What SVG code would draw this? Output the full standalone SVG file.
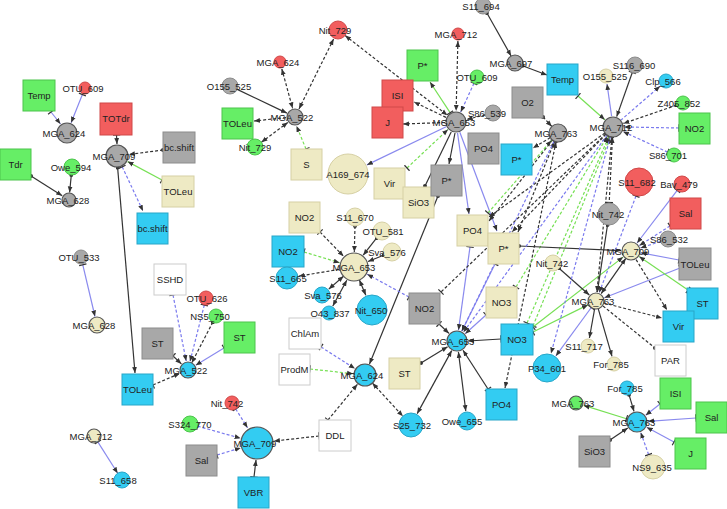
<svg xmlns="http://www.w3.org/2000/svg" width="727" height="509" viewBox="0 0 727 509">
<defs>
<marker id="a" viewBox="0 0 10 10" refX="10" refY="5" markerWidth="6" markerHeight="6" markerUnits="userSpaceOnUse" orient="auto-start-reverse"><path d="M0,1 L10,5 L0,9 z" fill="#333"/></marker>
<marker id="t" viewBox="0 0 4 10" refX="2" refY="5" markerWidth="3" markerHeight="8" markerUnits="userSpaceOnUse" orient="auto"><path d="M2,0 V10" stroke="#333" stroke-width="1.6"/></marker>
<marker id="d" viewBox="0 0 10 10" refX="5" refY="5" markerWidth="4" markerHeight="4" markerUnits="userSpaceOnUse"><circle cx="5" cy="5" r="5" fill="#333"/></marker>
</defs>
<style>
line{fill:none;stroke-width:1.2}
.k{stroke:#333}
.kd{stroke:#333;stroke-dasharray:3 2}
.b{stroke:#8a8aee}
.bd{stroke:#7a7aee;stroke-dasharray:3 2}
.g{stroke:#77e055}
.gd{stroke:#77e055;stroke-dasharray:3 2}
.ta{marker-start:url(#t);marker-end:url(#a)}
.da{marker-start:url(#d);marker-end:url(#a)}
.aa{marker-start:url(#a);marker-end:url(#a)}
.xa{marker-end:url(#a)}
.xd{marker-end:url(#d)}
.at{marker-start:url(#a);marker-end:url(#t)}
.xt{marker-end:url(#t)}
.gr{fill:#66ee66;stroke:#4cc44c}
.rd{fill:#f25e5e;stroke:#d04848}
.gy{fill:#a8a8a8;stroke:#8c8c8c}
.bg{fill:#eeeac4;stroke:#d6d0a4}
.cy{fill:#33ccf2;stroke:#28a6c8}
.wh{fill:#ffffff;stroke:#cccccc}
.hub{stroke:#555;stroke-width:1.2}
text{font-family:"Liberation Sans",Arial,sans-serif;font-size:9.5px;fill:#222;text-anchor:middle}
</style>
<rect width="727" height="509" fill="#fff"/>
<g id="edges">
<line class="b ta" x1="51" y1="112" x2="60.5" y2="124"/>
<line class="b ta" x1="82.4" y1="94.5" x2="71.1" y2="122.8"/>
<line class="k da" x1="31" y1="176" x2="62.2" y2="195.7"/>
<line class="k da" x1="71.3" y1="175" x2="69.6" y2="192.5"/>
<line class="k ta" x1="116.5" y1="135" x2="117" y2="144"/>
<line class="kd da" x1="163" y1="150" x2="128.9" y2="154.5"/>
<line class="g ta" x1="162" y1="180" x2="127.6" y2="161.6"/>
<line class="bd ta" x1="122.2" y1="166.8" x2="143" y2="211"/>
<line class="k da" x1="117.6" y1="167.5" x2="135" y2="373"/>
<line class="b ta" x1="82.8" y1="264.8" x2="95" y2="316.5"/>
<line class="bd ta" x1="173" y1="295" x2="186.2" y2="361"/>
<line class="bd ta" x1="204.3" y1="305" x2="190" y2="361.5"/>
<line class="kd da" x1="212.8" y1="322.2" x2="191.7" y2="362.9"/>
<line class="b ta" x1="224" y1="348" x2="195.7" y2="365.3"/>
<line class="k ta" x1="173" y1="356" x2="181.4" y2="363.9"/>
<line class="kd ta" x1="153" y1="385" x2="179.7" y2="373.5"/>
<line class="b ta" x1="97.8" y1="441.9" x2="117.7" y2="473.2"/>
<line class="bd ta" x1="235.7" y1="408.9" x2="247.5" y2="427.8"/>
<line class="bd ta" x1="197.7" y1="426.2" x2="240.6" y2="438.3"/>
<line class="bd ta" x1="217" y1="455" x2="240.7" y2="447.9"/>
<line class="k ta" x1="254" y1="477" x2="256" y2="460"/>
<line class="kd ta" x1="319" y1="436" x2="273.9" y2="441.1"/>
<line class="kd ta" x1="328" y1="420" x2="357.4" y2="384.3"/>
<line class="gd ta" x1="310" y1="369" x2="353.1" y2="373.7"/>
<line class="bd ta" x1="321" y1="347" x2="354.9" y2="368.6"/>
<line class="kd aa" x1="372.4" y1="383.1" x2="402.9" y2="416.2"/>
<line class="k da" x1="438" y1="196" x2="369.5" y2="363.9"/>
<line class="kd aa" x1="345.1" y1="35.5" x2="447.3" y2="115.2"/>
<line class="kd aa" x1="457.9" y1="41" x2="456.1" y2="111"/>
<line class="g ta" x1="450.1" y1="112.7" x2="430" y2="82"/>
<line class="kd xa" x1="446" y1="117.4" x2="414" y2="102"/>
<line class="kd xa" x1="445" y1="122.5" x2="403" y2="124"/>
<line class="bd ta" x1="474" y1="83.3" x2="460.7" y2="112"/>
<line class="kd xa" x1="485.2" y1="114.9" x2="466.7" y2="119.4"/>
<line class="b xa" x1="446.1" y1="126.8" x2="366.9" y2="164.9"/>
<line class="gd ta" x1="407" y1="168" x2="448" y2="129.5"/>
<line class="k xa" x1="455" y1="133" x2="449" y2="164"/>
<line class="k xd" x1="451.2" y1="131.9" x2="425" y2="186"/>
<line class="b xa" x1="457.5" y1="132.9" x2="469" y2="214"/>
<line class="b xa" x1="459.8" y1="132.3" x2="497" y2="231"/>
<line class="b ta" x1="470" y1="247" x2="458.5" y2="330.1"/>
<line class="b ta" x1="495" y1="264" x2="461.9" y2="331.1"/>
<line class="b ta" x1="486" y1="315" x2="465.2" y2="333.7"/>
<line class="k ta" x1="439" y1="324" x2="449" y2="333.4"/>
<line class="k ta" x1="501" y1="339" x2="468" y2="341"/>
<line class="k da" x1="421" y1="363" x2="447.6" y2="346.7"/>
<line class="k aa" x1="451.7" y1="350.6" x2="417.2" y2="413.6"/>
<line class="k aa" x1="458.4" y1="351.9" x2="465.8" y2="411.1"/>
<line class="k ta" x1="488" y1="389" x2="463" y2="350.2"/>
<line class="kd aa" x1="556" y1="142" x2="505" y2="388"/>
<line class="kd xt" x1="605.8" y1="133.9" x2="441" y2="292"/>
<line class="bd ta" x1="409" y1="297" x2="367.2" y2="274.2"/>
<line class="kd ta" x1="320" y1="232" x2="343.5" y2="256.2"/>
<line class="gd ta" x1="304" y1="252" x2="339.6" y2="262.7"/>
<line class="kd da" x1="355" y1="226" x2="354.3" y2="252"/>
<line class="k da" x1="376.5" y1="238.1" x2="363.2" y2="255.2"/>
<line class="k da" x1="383.6" y1="255.3" x2="368" y2="261.5"/>
<line class="kd xa" x1="339.2" y1="269.4" x2="298.8" y2="276.1"/>
<line class="k aa" x1="343.5" y1="276.2" x2="328.8" y2="289.1"/>
<line class="k aa" x1="346.8" y1="280.2" x2="332.8" y2="306"/>
<line class="k aa" x1="359.4" y1="279.9" x2="365.8" y2="295.2"/>
<line class="k xa" x1="237.2" y1="89.4" x2="286.9" y2="113.1"/>
<line class="kd aa" x1="281.8" y1="68.8" x2="292.6" y2="108.3"/>
<line class="kd aa" x1="333.6" y1="39" x2="299" y2="108.9"/>
<line class="kd xa" x1="286" y1="117.6" x2="254" y2="121"/>
<line class="kd aa" x1="287.8" y1="122.4" x2="261.4" y2="142.2"/>
<line class="gd ta" x1="306" y1="149" x2="296.5" y2="126"/>
<line class="k da" x1="486.9" y1="13" x2="511.1" y2="56"/>
<line class="k da" x1="522.5" y1="65.8" x2="547" y2="75"/>
<line class="g ta" x1="578" y1="96" x2="604.8" y2="119.7"/>
<line class="b xa" x1="611.6" y1="116.1" x2="607" y2="84"/>
<line class="k ta" x1="632.3" y1="72.5" x2="616.7" y2="116.6"/>
<line class="bd xa" x1="620.6" y1="120.4" x2="660" y2="86.2"/>
<line class="kd da" x1="676.4" y1="105.3" x2="623.4" y2="123.4"/>
<line class="bd ta" x1="679" y1="128" x2="624" y2="127"/>
<line class="bd ta" x1="667.6" y1="152.1" x2="623" y2="131.6"/>
<line class="kd da" x1="543" y1="117" x2="551.8" y2="126.4"/>
<line class="kd xa" x1="550.3" y1="137.6" x2="533" y2="148"/>
<line class="kd at" x1="612.5" y1="137" x2="609.2" y2="202.5"/>
<line class="kd xa" x1="606" y1="134.2" x2="512" y2="232"/>
<line class="kd xa" x1="605" y1="132.9" x2="489" y2="217"/>
<line class="kd aa" x1="554.6" y1="141.3" x2="518" y2="232"/>
<line class="kd xa" x1="552.4" y1="140.1" x2="489" y2="221"/>
<line class="gd ta" x1="488" y1="213" x2="551.4" y2="140.5"/>
<line class="gd ta" x1="516" y1="287" x2="607.3" y2="136.4"/>
<line class="gd ta" x1="527" y1="323" x2="608.6" y2="137.1"/>
<line class="gd ta" x1="533" y1="326" x2="610" y2="137.5"/>
<line class="k da" x1="519" y1="246" x2="621" y2="250.6"/>
<line class="b ta" x1="677.2" y1="190.4" x2="637.1" y2="243"/>
<line class="bd ta" x1="670" y1="226" x2="639.4" y2="245.6"/>
<line class="bd xa" x1="660.4" y1="241.5" x2="640.5" y2="247.9"/>
<line class="b ta" x1="679" y1="260" x2="640.8" y2="252.8"/>
<line class="b ta" x1="680" y1="268" x2="604.4" y2="297.7"/>
<line class="k aa" x1="625.8" y1="258.4" x2="601.2" y2="293.6"/>
<line class="g ta" x1="688" y1="290" x2="639.2" y2="256.6"/>
<line class="kd xa" x1="636.1" y1="259.6" x2="667" y2="310"/>
<line class="g ta" x1="533" y1="327" x2="623.1" y2="257.1"/>
<line class="g ta" x1="533" y1="332" x2="587.9" y2="304.9"/>
<line class="k da" x1="559" y1="268.3" x2="589.3" y2="295"/>
<line class="k da" x1="607.5" y1="225" x2="597.3" y2="292.1"/>
<line class="kd xa" x1="603.8" y1="303" x2="662" y2="318"/>
<line class="kd xd" x1="603" y1="306" x2="655" y2="348"/>
<line class="k xa" x1="594.6" y1="309" x2="589.4" y2="338"/>
<line class="k xa" x1="598.2" y1="308.7" x2="612" y2="356.3"/>
<line class="b ta" x1="591.3" y1="307.5" x2="555.9" y2="355.9"/>
<line class="bd ta" x1="610.4" y1="136.6" x2="551" y2="353.5"/>
<line class="bd ta" x1="607.1" y1="135.1" x2="463.5" y2="332.1"/>
<line class="bd ta" x1="554.1" y1="141.1" x2="461.8" y2="331.1"/>
<line class="bd ta" x1="636" y1="196" x2="599.2" y2="292.6"/>
<line class="kd aa" x1="612" y1="137" x2="596.9" y2="292"/>
<line class="k da" x1="629" y1="394.7" x2="634" y2="411.4"/>
<line class="g ta" x1="626.5" y1="418.7" x2="583.7" y2="405.4"/>
<line class="b ta" x1="660" y1="404" x2="645.7" y2="415.2"/>
<line class="b ta" x1="696" y1="418" x2="648" y2="421.3"/>
<line class="b ta" x1="674" y1="442" x2="646.7" y2="427.2"/>
<line class="k da" x1="610" y1="440" x2="627.8" y2="428.1"/>
<line class="bd ta" x1="648.6" y1="454.6" x2="640.7" y2="432.4"/>
</g>
<g id="n_Temp_g"><rect class="gr" x="23" y="80" width="32" height="31"/><text x="39" y="99">Temp</text></g>
<g id="n_OTU_609_r"><circle class="rd" cx="85" cy="88" r="6"/><text x="83" y="92">OTU_609</text></g>
<g id="n_MGA_624_gy"><circle class="gy hub" cx="67" cy="133" r="10"/><text x="64" y="137">MGA_624</text></g>
<g id="n_Tdr"><rect class="gr" x="0" y="149" width="31" height="31"/><text x="15.5" y="168">Tdr</text></g>
<g id="n_Owe_594"><circle class="gr" cx="72" cy="167" r="8"/><text x="71" y="171">Owe_594</text></g>
<g id="n_MGA_628_gy"><circle class="gy hub" cx="69" cy="200" r="7"/><text x="68" y="204">MGA_628</text></g>
<g id="n_TOTdr"><rect class="rd" x="100" y="103" width="32" height="32"/><text x="116" y="122">TOTdr</text></g>
<g id="n_MGA_709_gy"><circle class="gy hub" cx="117" cy="156" r="11"/><text x="114" y="160">MGA_709</text></g>
<g id="n_bcshift_gy"><rect class="gy" x="163" y="132" width="32" height="31"/><text x="179" y="151">bc.shift</text></g>
<g id="n_TOLeu_bg"><rect class="bg" x="162" y="176" width="32" height="31"/><text x="178" y="195">TOLeu</text></g>
<g id="n_bcshift_cy"><rect class="cy" x="137" y="213" width="31" height="31"/><text x="152.5" y="232">bc.shift</text></g>
<g id="n_OTU_533"><circle class="gy" cx="81" cy="257" r="7"/><text x="79" y="261">OTU_533</text></g>
<g id="n_MGA_628_bg"><circle class="bg hub" cx="97" cy="325" r="8"/><text x="94" y="329">MGA_628</text></g>
<g id="n_SSHD"><rect class="wh" x="154" y="264" width="32" height="31"/><text x="170" y="283">SSHD</text></g>
<g id="n_OTU_626"><circle class="rd" cx="206" cy="298" r="7"/><text x="207" y="302">OTU_626</text></g>
<g id="n_NS5_750"><circle class="gr" cx="216" cy="316" r="7"/><text x="210" y="320">NS5_750</text></g>
<g id="n_ST_g"><rect class="gr" x="224" y="322" width="31" height="31"/><text x="239.5" y="341">ST</text></g>
<g id="n_ST_gy"><rect class="gy" x="142" y="328" width="31" height="31"/><text x="157.5" y="347">ST</text></g>
<g id="n_MGA_522_cy"><circle class="cy hub" cx="188" cy="370" r="8"/><text x="186" y="374">MGA_522</text></g>
<g id="n_TOLeu_cy"><rect class="cy" x="122" y="374" width="31" height="31"/><text x="137.5" y="393">TOLeu</text></g>
<g id="n_Nit_742_r"><circle class="rd" cx="232" cy="403" r="7"/><text x="227" y="407">Nit_742</text></g>
<g id="n_S324_770"><circle class="gr" cx="190" cy="424" r="8"/><text x="190" y="428">S324_770</text></g>
<g id="n_MGA_709_cy"><circle class="cy hub" cx="257" cy="443" r="16"/><text x="255" y="447">MGA_709</text></g>
<g id="n_Sal_gy"><rect class="gy" x="186" y="445" width="31" height="31"/><text x="201.5" y="464">Sal</text></g>
<g id="n_VBR"><rect class="cy" x="238" y="477" width="31" height="31"/><text x="253.5" y="496">VBR</text></g>
<g id="n_DDL"><rect class="wh" x="319" y="420" width="32" height="31"/><text x="335" y="439">DDL</text></g>
<g id="n_MGA_712_bg"><circle class="bg hub" cx="94" cy="436" r="7"/><text x="91" y="440">MGA_712</text></g>
<g id="n_S11_658"><circle class="cy" cx="122" cy="480" r="8"/><text x="118" y="484">S11_658</text></g>
<g id="n_O155_525_gy"><circle class="gy" cx="230" cy="86" r="8"/><text x="229" y="90">O155_525</text></g>
<g id="n_TOLeu_g"><rect class="gr" x="222" y="108" width="31" height="31"/><text x="237.5" y="127">TOLeu</text></g>
<g id="n_Nit_729_g"><circle class="gr" cx="255" cy="147" r="8"/><text x="255" y="151">Nit_729</text></g>
<g id="n_Nit_729_r"><circle class="rd" cx="338" cy="30" r="9"/><text x="335" y="34">Nit_729</text></g>
<g id="n_MGA_624_r"><circle class="rd" cx="280" cy="62" r="6"/><text x="278" y="66">MGA_624</text></g>
<g id="n_MGA_522_gy"><circle class="gy hub" cx="295" cy="117" r="8"/><text x="292" y="121">MGA_522</text></g>
<g id="n_S"><rect class="bg" x="291" y="149" width="31" height="31"/><text x="306.5" y="168">S</text></g>
<g id="n_A169_674"><circle class="bg" cx="348" cy="174" r="20"/><text x="348" y="178">A169_674</text></g>
<g id="n_Pstar_g"><rect class="gr" x="407" y="50" width="31" height="31"/><text x="422.5" y="69">P*</text></g>
<g id="n_ISI_r"><rect class="rd" x="382" y="80" width="31" height="31"/><text x="397.5" y="99">ISI</text></g>
<g id="n_J_r"><rect class="rd" x="372" y="107" width="31" height="31"/><text x="387.5" y="126">J</text></g>
<g id="n_MGA_712_r"><circle class="rd" cx="458" cy="34" r="6"/><text x="456" y="38">MGA_712</text></g>
<g id="n_OTU_609_g"><circle class="gr" cx="477" cy="77" r="7"/><text x="477" y="81">OTU_609</text></g>
<g id="n_S86_539"><circle class="gy" cx="493" cy="113" r="8"/><text x="487" y="117">S86_539</text></g>
<g id="n_MGA_653_gy"><circle class="gy hub" cx="456" cy="122" r="10"/><text x="454" y="126">MGA_653</text></g>
<g id="n_Vir_bg"><rect class="bg" x="374" y="168" width="31" height="31"/><text x="389.5" y="187">Vir</text></g>
<g id="n_SiO3_bg"><rect class="bg" x="403" y="187" width="31" height="31"/><text x="418.5" y="206">SiO3</text></g>
<g id="n_Pstar_gy"><rect class="gy" x="431" y="165" width="31" height="31"/><text x="446.5" y="184">P*</text></g>
<g id="n_PO4_gy"><rect class="gy" x="468" y="133" width="31" height="31"/><text x="483.5" y="152">PO4</text></g>
<g id="n_O2"><rect class="gy" x="512" y="87" width="31" height="31"/><text x="527.5" y="106">O2</text></g>
<g id="n_Pstar_cy"><rect class="cy" x="501" y="144" width="31" height="31"/><text x="516.5" y="163">P*</text></g>
<g id="n_S11_694"><circle class="gy" cx="483" cy="6" r="8"/><text x="481" y="10">S11_694</text></g>
<g id="n_MGA_697"><circle class="gy hub" cx="515" cy="63" r="8"/><text x="511" y="67">MGA_697</text></g>
<g id="n_Temp_cy"><rect class="cy" x="547" y="64" width="31" height="31"/><text x="562.5" y="83">Temp</text></g>
<g id="n_MGA_763_gy"><circle class="gy hub" cx="558" cy="133" r="9"/><text x="556" y="137">MGA_763</text></g>
<g id="n_O155_525_bg"><circle class="bg" cx="606" cy="76" r="7"/><text x="605" y="80">O155_525</text></g>
<g id="n_S116_690"><circle class="gy" cx="635" cy="65" r="8"/><text x="634" y="69">S116_690</text></g>
<g id="n_Clp_566"><circle class="cy" cx="666" cy="81" r="7"/><text x="663" y="85">Clp_566</text></g>
<g id="n_Z405_852"><circle class="gr" cx="683" cy="103" r="7"/><text x="679" y="107">Z405_852</text></g>
<g id="n_NO2_g"><rect class="gr" x="679" y="113" width="31" height="31"/><text x="694.5" y="132">NO2</text></g>
<g id="n_MGA_712_gy"><circle class="gy hub" cx="613" cy="127" r="10"/><text x="611" y="131">MGA_712</text></g>
<g id="n_S86_701"><circle class="gr" cx="674" cy="155" r="7"/><text x="668" y="159">S86_701</text></g>
<g id="n_S11_682"><circle class="rd" cx="639" cy="182" r="14"/><text x="637" y="186">S11_682</text></g>
<g id="n_Bav_479"><circle class="rd" cx="682" cy="184" r="8"/><text x="679" y="188">Bav_479</text></g>
<g id="n_Sal_r"><rect class="rd" x="670" y="198" width="31" height="31"/><text x="685.5" y="217">Sal</text></g>
<g id="n_Nit_742_gy"><circle class="gy" cx="609" cy="214" r="11"/><text x="608" y="218">Nit_742</text></g>
<g id="n_S86_532"><circle class="gy" cx="668" cy="239" r="8"/><text x="669" y="243">S86_532</text></g>
<g id="n_TOLeu_gy"><rect class="gy" x="679" y="248" width="32" height="32"/><text x="695" y="268">TOLeu</text></g>
<g id="n_PO4_bg"><rect class="bg" x="457" y="215" width="31" height="31"/><text x="472.5" y="234">PO4</text></g>
<g id="n_Pstar_bg"><rect class="bg" x="488" y="233" width="31" height="31"/><text x="503.5" y="252">P*</text></g>
<g id="n_MGA_709_bg"><circle class="bg hub" cx="631" cy="251" r="9"/><text x="628" y="255">MGA_709</text></g>
<g id="n_Nit_742_bg"><circle class="bg" cx="553" cy="263" r="8"/><text x="552" y="267">Nit_742</text></g>
<g id="n_NO3_bg"><rect class="bg" x="486" y="287" width="31" height="31"/><text x="501.5" y="306">NO3</text></g>
<g id="n_MGA_763_bg"><circle class="bg hub" cx="596" cy="301" r="8"/><text x="593" y="305">MGA_763</text></g>
<g id="n_ST_cy"><rect class="cy" x="687" y="288" width="31" height="31"/><text x="702.5" y="307">ST</text></g>
<g id="n_Vir_cy"><rect class="cy" x="663" y="311" width="31" height="31"/><text x="678.5" y="330">Vir</text></g>
<g id="n_PAR"><rect class="wh" x="655" y="345" width="31" height="31"/><text x="670.5" y="364">PAR</text></g>
<g id="n_NO2_bg"><rect class="bg" x="289" y="202" width="31" height="31"/><text x="304.5" y="221">NO2</text></g>
<g id="n_NO2_cy"><rect class="cy" x="272" y="236" width="32" height="31"/><text x="288" y="255">NO2</text></g>
<g id="n_S11_670"><circle class="bg" cx="355" cy="217" r="9"/><text x="355" y="221">S11_670</text></g>
<g id="n_OTU_581"><circle class="bg" cx="382" cy="231" r="9"/><text x="383" y="235">OTU_581</text></g>
<g id="n_Sva_576_bg"><circle class="bg" cx="392" cy="252" r="9"/><text x="387" y="256">Sva_576</text></g>
<g id="n_MGA_653_bg"><circle class="bg hub" cx="354" cy="267" r="14"/><text x="354" y="271">MGA_653</text></g>
<g id="n_S11_665"><circle class="cy" cx="287" cy="278" r="11"/><text x="288" y="282">S11_665</text></g>
<g id="n_Sva_576_cy"><circle class="cy" cx="322" cy="295" r="8"/><text x="323" y="299">Sva_576</text></g>
<g id="n_O43_837"><circle class="cy" cx="329" cy="313" r="7"/><text x="330" y="317">O43_837</text></g>
<g id="n_Nit_650"><circle class="cy" cx="372" cy="310" r="15"/><text x="371" y="314">Nit_650</text></g>
<g id="n_ChlAm"><rect class="wh" x="289" y="318" width="32" height="31"/><text x="305" y="337">ChlAm</text></g>
<g id="n_ProdM"><rect class="wh" x="279" y="354" width="31" height="31"/><text x="294.5" y="373">ProdM</text></g>
<g id="n_MGA_624_cy"><circle class="cy hub" cx="365" cy="375" r="11"/><text x="362" y="379">MGA_624</text></g>
<g id="n_NO2_gy"><rect class="gy" x="409" y="293" width="31" height="31"/><text x="424.5" y="312">NO2</text></g>
<g id="n_NO3_cy"><rect class="cy" x="501" y="324" width="32" height="31"/><text x="517" y="343">NO3</text></g>
<g id="n_MGA_653_cy"><circle class="cy hub" cx="457" cy="341" r="10"/><text x="453" y="345">MGA_653</text></g>
<g id="n_ST_bg"><rect class="bg" x="389" y="358" width="31" height="31"/><text x="404.5" y="377">ST</text></g>
<g id="n_PO4_cy"><rect class="cy" x="486" y="389" width="31" height="31"/><text x="501.5" y="408">PO4</text></g>
<g id="n_S25_732"><circle class="cy" cx="411" cy="425" r="12"/><text x="412" y="429">S25_732</text></g>
<g id="n_Owe_655"><circle class="cy" cx="467" cy="421" r="9"/><text x="462" y="425">Owe_655</text></g>
<g id="n_P34_601"><circle class="cy" cx="547" cy="368" r="14"/><text x="547" y="372">P34_601</text></g>
<g id="n_S11_717"><circle class="bg" cx="588" cy="346" r="7"/><text x="584" y="350">S11_717</text></g>
<g id="n_For_785_bg"><circle class="bg" cx="614" cy="364" r="7"/><text x="611" y="368">For_785</text></g>
<g id="n_For_785_cy"><circle class="cy" cx="627" cy="388" r="7"/><text x="625" y="392">For_785</text></g>
<g id="n_ISI_g"><rect class="gr" x="660" y="378" width="31" height="31"/><text x="675.5" y="397">ISI</text></g>
<g id="n_MGA_763_g"><circle class="gr hub" cx="576" cy="403" r="7"/><text x="573" y="407">MGA_763</text></g>
<g id="n_Sal_g"><rect class="gr" x="696" y="402" width="31" height="31"/><text x="711.5" y="421">Sal</text></g>
<g id="n_MGA_763_cy"><circle class="cy hub" cx="637" cy="422" r="10"/><text x="634" y="426">MGA_763</text></g>
<g id="n_SiO3_gy"><rect class="gy" x="579" y="436" width="31" height="31"/><text x="594.5" y="455">SiO3</text></g>
<g id="n_J_g"><rect class="gr" x="675" y="438" width="31" height="31"/><text x="690.5" y="457">J</text></g>
<g id="n_NS9_635"><circle class="bg" cx="653" cy="467" r="12"/><text x="652" y="471">NS9_635</text></g>
</svg>
